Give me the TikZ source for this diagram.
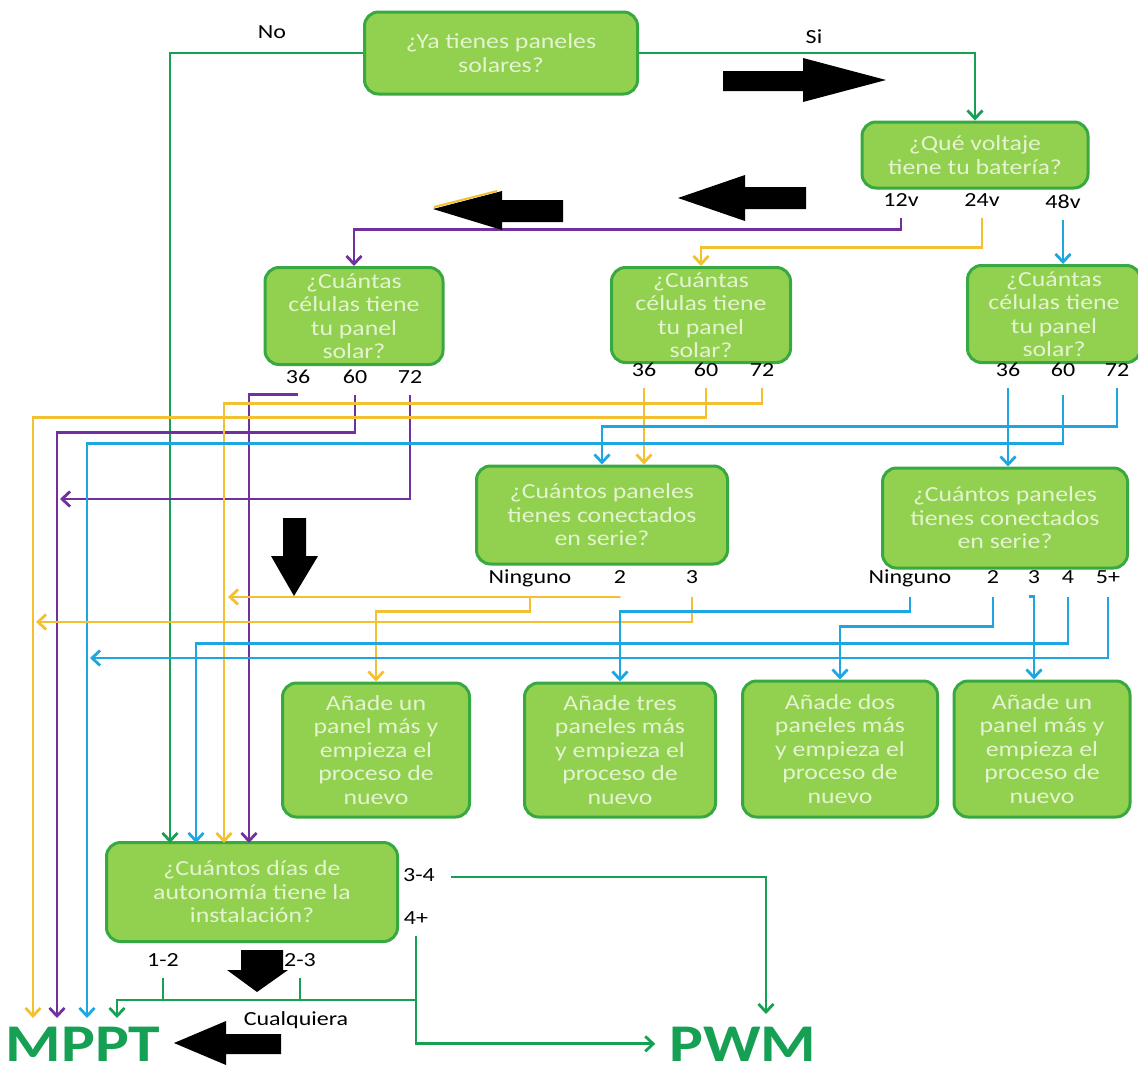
\documentclass[tikz,border=0pt]{standalone}
\usepackage{fontspec}
\setmainfont{Carlito}[FakeStretch=1.2]
\usepackage{tikz}
\usetikzlibrary{arrows.meta}

\definecolor{boxfill}{RGB}{146,208,80}
\definecolor{boxedge}{RGB}{56,168,64}
\definecolor{boxtext}{RGB}{228,244,208}
\definecolor{flowgreen}{RGB}{22,160,84}
\definecolor{flowpurple}{RGB}{112,48,160}
\definecolor{flowyellow}{RGB}{242,192,48}
\definecolor{flowblue}{RGB}{28,166,226}

\begin{document}
\begin{tikzpicture}[x=1pt,y=-1pt,
>={Straight Barb[length=8pt,width=15pt]},
questionnode/.style={rectangle, rounded corners=14pt, fill=boxfill, draw=boxedge, line width=3pt, text=boxtext, align=center, inner sep=2pt, font=\fontsize{21.5}{23.5}\selectfont},
labelnode/.style={inner sep=2pt, text height=13pt, text depth=4pt, font=\fontsize{20}{24}\selectfont},
bignode/.style={inner sep=0pt, anchor=base, text=flowgreen, font=\fontsize{53}{58}\selectfont\bfseries},
gwire/.style={draw=flowgreen, line width=2.8pt},
pwire/.style={draw=flowpurple, line width=2.8pt},
ywire/.style={draw=flowyellow, line width=2.8pt},
bwire/.style={draw=flowblue, line width=2.8pt},
blockarrow/.style={fill=black},
]
\useasboundingbox (0,0) rectangle (1138,1071);

%Nodes
\node[questionnode, minimum width=273pt, minimum height=82pt] (solares) at (501,53) {¿Ya tienes paneles\\solares?};
\node[questionnode, minimum width=226pt, minimum height=66pt] (voltaje) at (975,155) {¿Qué voltaje\\tiene tu batería?};
\node[questionnode, minimum width=178pt, minimum height=97pt] (celdasA) at (354,316) {¿Cuántas\\células tiene\\tu panel\\solar?};
\node[questionnode, minimum width=179pt, minimum height=95pt] (celdasB) at (701,315) {¿Cuántas\\células tiene\\tu panel\\solar?};
\node[questionnode, minimum width=173pt, minimum height=97pt] (celdasC) at (1054,314) {¿Cuántas\\células tiene\\tu panel\\solar?};
\node[questionnode, minimum width=251pt, minimum height=98pt] (serieA) at (602,515) {¿Cuántos paneles\\tienes conectados\\en serie?};
\node[questionnode, minimum width=245pt, minimum height=100pt] (serieB) at (1005,518) {¿Cuántos paneles\\tienes conectados\\en serie?};
\node[questionnode, minimum width=187pt, minimum height=134pt] (anadeA) at (376,750) {Añade un\\panel más y\\empieza el\\proceso de\\nuevo};
\node[questionnode, minimum width=191pt, minimum height=134pt] (anadeB) at (620,750) {Añade tres\\paneles más\\y empieza el\\proceso de\\nuevo};
\node[questionnode, minimum width=195pt, minimum height=136pt] (anadeC) at (840,749) {Añade dos\\paneles más\\y empieza el\\proceso de\\nuevo};
\node[questionnode, minimum width=176pt, minimum height=136pt] (anadeD) at (1042,749) {Añade un\\panel más y\\empieza el\\proceso de\\nuevo};
\node[questionnode, minimum width=291pt, minimum height=99pt] (dias) at (252,892) {¿Cuántos días de\\autonomía tiene la\\instalación?};

\node[bignode] (mppt) at (83,1061) {MPPT};
\node[bignode] (pwm) at (743,1061) {PWM};

%Labels
\node[labelnode] (no) at (272,34) {No};
\node[labelnode] (si) at (814,39) {Si};
\node[labelnode] (v12) at (901,202) {12v};
\node[labelnode] (v24) at (982,202) {24v};
\node[labelnode] (v48) at (1063,204) {48v};
\node[labelnode] (a36) at (298,379) {36};
\node[labelnode] (a60) at (355,379) {60};
\node[labelnode] (a72) at (410,379) {72};
\node[labelnode] (b36) at (644,372) {36};
\node[labelnode] (b60) at (706,372) {60};
\node[labelnode] (b72) at (762,372) {72};
\node[labelnode] (e36) at (1008,372) {36};
\node[labelnode] (e60) at (1063,372) {60};
\node[labelnode] (e72) at (1117,372) {72};
\node[labelnode] (fNinguno) at (530,579) {Ninguno};
\node[labelnode] (f2) at (620,579) {2};
\node[labelnode] (f3) at (692,579) {3};
\node[labelnode] (gNinguno) at (910,579) {Ninguno};
\node[labelnode] (g2) at (993,579) {2};
\node[labelnode] (g3) at (1034,579) {3};
\node[labelnode] (g4) at (1068,579) {4};
\node[labelnode] (g5) at (1108,579) {5+};
\node[labelnode] (d34) at (419,877) {3-4};
\node[labelnode] (d4) at (416,920) {4+};
\node[labelnode] (d12) at (163,962) {1-2};
\node[labelnode] (d23) at (300,962) {2-3};
\node[labelnode] (cualquiera) at (296,1021) {Cualquiera};

%Ends
\coordinate (diasIn1) at (170,843);
\coordinate (diasIn2) at (196,843);
\coordinate (diasIn3) at (224,843);
\coordinate (diasIn4) at (249,843);
\coordinate (mpptIn1) at (33,1018);
\coordinate (mpptIn2) at (57,1018);
\coordinate (mpptIn3) at (87,1018);
\coordinate (mpptIn4) at (117,1018);
\coordinate (pwmIn) at (766,1014);
\coordinate (pJoin) at (60,499);
\coordinate (yJoin) at (228,597);
\coordinate (yJoinB) at (36,622);
\coordinate (bJoin) at (90,658);
\coordinate (cJoin) at (416,1000);

%Lines
\draw[gwire,->] (solares.west) -| (diasIn1);
\draw[gwire,->] (solares.east) -| (voltaje.north);

\draw[pwire,->] ([yshift=-5pt]v12.south) -- ++(0,12) -| (celdasA.north);
\draw[ywire,->] ([yshift=-5pt]v24.south) -- ++(0,30) -| (celdasB.north);
\draw[bwire,->] ([yshift=-5pt]v48.south) -- (v48 |- celdasC.north);

\draw[pwire,->] ([yshift=-5pt]a36.south) -| (diasIn4);
\draw[pwire,->] ([yshift=-5pt]a60.south) -- ++(0,38) -| (mpptIn2);
\draw[pwire,->] ([yshift=-5pt]a72.south) |- (pJoin);

\draw[ywire,->] ([yshift=-5pt]b72.south) -- ++(0,16) -| (diasIn3);
\draw[ywire,->] ([yshift=-5pt]b60.south) -- ++(0,30) -| (mpptIn1);
\draw[ywire,->] ([yshift=-5pt]b36.south) -- (b36 |- serieA.north);

\draw[bwire,->] ([yshift=-5pt]e72.south) -- ++(0,39) -| (serieA.north);
\draw[bwire,->] ([yshift=-12pt]e60.south) -- ++(0,49) -| (mpptIn3);
\draw[bwire,->] ([yshift=-5pt]e36.south) -- (e36 |- serieB.north);

\draw[ywire,->] ([yshift=-7pt]fNinguno.south) -- ++(0,15) -| (anadeA.north);
\draw[ywire,->] ([yshift=-7pt]f2.south) |- (yJoin);
\draw[ywire,->] ([yshift=-7pt]f3.south) |- (yJoinB);

\draw[bwire,->] ([yshift=-7pt]gNinguno.south) -- ++(0,15) -| (anadeB.north);
\draw[bwire,->] ([yshift=-7pt]g2.south) -- ++(0,30) -| (anadeC.north);
\draw[bwire,->] ([xshift=-5pt,yshift=-7pt]g3.south) -- ++(5,0) -- (g3 |- anadeD.north);
\draw[bwire,->] ([yshift=-7pt]g4.south) -- ++(0,47) -| (diasIn2);
\draw[bwire,->] ([yshift=-7pt]g5.south) |- (bJoin);

\draw[gwire,->] ([xshift=14pt]d34.east) -| (pwmIn);
\draw[gwire,->] ([yshift=-5pt]d4.south) |- ([xshift=-14pt]pwm.west);
\draw[gwire,->] (cJoin) -| (mpptIn4);
\draw[gwire] ([yshift=-5pt]d12.south) -- (d12 |- cJoin);
\draw[gwire] ([yshift=-5pt]d23.south) -- (d23 |- cJoin);

%Block arrows
\fill[blockarrow] (723,71) -- (803,71) -- (803,58) -- (886,80) -- (803,102) -- (803,91) -- (723,91) -- cycle;
\fill[blockarrow] (806,187) -- (745,187) -- (745,175) -- (678,198) -- (745,221) -- (745,209) -- (806,209) -- cycle;
\fill[blockarrow] (563,200) -- (502,200) -- (502,191) -- (433,209) -- (502,230) -- (502,222) -- (563,222) -- cycle;
\draw[flowyellow, line width=2pt] (434,207) -- (497,191);
\fill[blockarrow] (283,518) -- (306,518) -- (306,556) -- (318,556) -- (294,596) -- (271,556) -- (283,556) -- cycle;
\fill[blockarrow] (241,950) -- (283,950) -- (283,970) -- (288,970) -- (257,992) -- (227,970) -- (241,970) -- cycle;
\fill[blockarrow] (281,1034) -- (226,1034) -- (226,1021) -- (174,1043) -- (226,1065) -- (226,1054) -- (281,1054) -- cycle;
\end{tikzpicture}
\end{document}
